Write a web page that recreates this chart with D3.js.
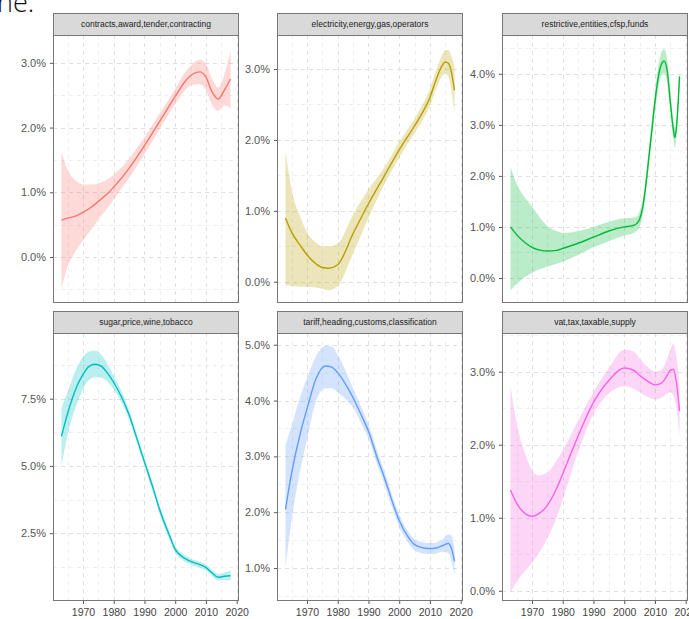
<!DOCTYPE html>
<html>
<head>
<meta charset="utf-8">
<script src="https://cdn.jsdelivr.net/npm/d3@7"></script>
<style>
  body { margin: 0; background: #fff; }
  svg { display: block; font-family: "Liberation Sans", Arial, sans-serif; }
</style>
</head>
<body>
<div id="chart"></div>
<script>
// shared x axis (years)
const xTicks = [1970, 1980, 1990, 2000, 2010, 2020];
const xMinor = [1965, 1975, 1985, 1995, 2005, 2015];

const titles = [
  "contracts,award,tender,contracting",
  "electricity,energy,gas,operators",
  "restrictive,entities,cfsp,funds",
  "sugar,price,wine,tobacco",
  "tariff,heading,customs,classification",
  "vat,tax,taxable,supply"
];
const colors = ["#F8766D", "#B79F00", "#00BA38", "#00BFC4", "#619CFF", "#F564E3"];

// y limits and ticks per facet (percent)
const yLimits = [[-0.71, 3.43], [-0.30, 3.48], [-0.49, 4.76], [-0.02, 9.94], [0.41, 5.21], [-0.14, 3.53]];
const yTicks = [[0, 1, 2, 3], [0, 1, 2, 3], [0, 1, 2, 3, 4], [2.5, 5, 7.5], [1, 2, 3, 4, 5], [0, 1, 2, 3]];

// smoothed share per year, with confidence band
const contractsYears = [1963,1965,1968,1970,1973,1975,1978,1980,1985,1990,1995,2000,2003,2005,2008,2010,2012,2014,2016,2018];
const contractsFit  = [0.57,0.60,0.64,0.69,0.78,0.86,0.98,1.08,1.37,1.72,2.10,2.48,2.70,2.80,2.86,2.78,2.55,2.44,2.58,2.75];
const contractsLow  = [-0.48,-0.15,0.12,0.26,0.44,0.58,0.76,0.89,1.22,1.59,1.98,2.36,2.56,2.65,2.67,2.58,2.35,2.26,2.34,2.30];
const contractsHigh = [1.62,1.35,1.17,1.12,1.12,1.14,1.20,1.27,1.52,1.85,2.22,2.60,2.84,2.95,3.05,2.98,2.75,2.62,2.82,3.20];

const electricityYears = [1963,1965,1968,1970,1973,1975,1977,1980,1985,1990,1995,2000,2005,2008,2010,2012,2014,2015,2016,2017,2018];
const electricityFit  = [0.90,0.70,0.50,0.38,0.25,0.20,0.19,0.24,0.68,1.10,1.48,1.86,2.20,2.42,2.60,2.85,3.05,3.10,3.08,2.95,2.70];
const electricityLow  = [-0.05,-0.06,-0.07,-0.07,-0.08,-0.10,-0.12,-0.06,0.40,0.90,1.36,1.75,2.10,2.31,2.48,2.72,2.90,2.93,2.89,2.70,2.38];
const electricityHigh = [1.85,1.30,0.90,0.70,0.55,0.50,0.50,0.54,0.95,1.30,1.60,1.97,2.30,2.53,2.72,2.98,3.20,3.27,3.27,3.18,3.02];

const restrictiveYears = [1963,1965,1968,1970,1973,1975,1978,1980,1985,1990,1995,2000,2003,2004,2005,2006,2007,2008,2009,2010,2011,2012,2013,2014,2015,2016,2016.5,2017,2018];
const restrictiveFit  = [1.00,0.85,0.68,0.60,0.54,0.53,0.54,0.58,0.68,0.80,0.92,1.00,1.03,1.06,1.15,1.38,1.80,2.35,2.90,3.45,3.90,4.17,4.25,4.05,3.45,2.90,2.75,2.95,3.95];
const restrictiveLow  = [-0.24,-0.12,0.03,0.10,0.18,0.22,0.28,0.32,0.45,0.60,0.72,0.83,0.88,0.92,1.00,1.22,1.64,2.18,2.72,3.25,3.68,3.95,4.02,3.82,3.24,2.72,2.55,2.78,3.82];
const restrictiveHigh = [2.18,1.85,1.55,1.40,1.15,1.02,0.92,0.88,0.92,1.00,1.10,1.17,1.18,1.20,1.30,1.52,1.96,2.52,3.08,3.65,4.12,4.40,4.48,4.28,3.66,3.08,2.95,3.12,4.08];

const sugarYears = [1963,1965,1968,1970,1972,1974,1976,1978,1980,1983,1985,1988,1990,1993,1995,1998,2000,2002,2005,2008,2010,2012,2014,2016,2018];
const sugarFit  = [6.10,6.95,7.95,8.40,8.70,8.78,8.70,8.45,8.10,7.45,6.90,5.85,5.15,4.10,3.35,2.45,1.90,1.65,1.45,1.33,1.22,1.02,0.86,0.90,0.92];
const sugarLow  = [5.00,6.15,7.30,7.85,8.20,8.30,8.28,8.12,7.85,7.25,6.72,5.70,5.00,3.95,3.20,2.30,1.77,1.53,1.34,1.22,1.11,0.91,0.74,0.76,0.74];
const sugarHigh = [7.15,7.75,8.65,9.05,9.25,9.28,9.12,8.78,8.35,7.65,7.08,6.00,5.30,4.25,3.50,2.60,2.03,1.77,1.56,1.44,1.33,1.13,0.98,1.04,1.10];

const tariffYears = [1963,1965,1968,1970,1973,1976,1978,1980,1983,1985,1988,1990,1993,1995,1998,2000,2003,2005,2008,2010,2012,2014,2016,2017,2018];
const tariffFit  = [2.05,2.70,3.45,3.85,4.40,4.62,4.60,4.50,4.25,4.05,3.70,3.45,2.95,2.65,2.15,1.85,1.55,1.42,1.36,1.35,1.36,1.40,1.44,1.35,1.12];
const tariffLow  = [1.00,1.85,2.80,3.30,4.00,4.22,4.22,4.15,4.00,3.87,3.55,3.32,2.83,2.53,2.04,1.74,1.45,1.32,1.26,1.25,1.26,1.29,1.27,1.12,0.88];
const tariffHigh = [3.20,3.55,4.10,4.40,4.80,4.98,4.97,4.82,4.48,4.22,3.84,3.58,3.07,2.77,2.26,1.96,1.65,1.52,1.46,1.45,1.46,1.51,1.60,1.58,1.35];

const vatYears = [1963,1965,1968,1970,1972,1975,1978,1980,1985,1990,1995,2000,2003,2005,2008,2010,2012,2014,2015,2016,2017,2018];
const vatFit  = [1.38,1.20,1.05,1.02,1.05,1.17,1.40,1.60,2.12,2.58,2.88,3.05,3.02,2.95,2.86,2.82,2.84,2.95,3.02,3.03,2.85,2.46];
const vatLow  = [-0.02,0.12,0.28,0.38,0.50,0.72,1.00,1.25,1.90,2.42,2.70,2.80,2.77,2.72,2.65,2.62,2.64,2.70,2.72,2.68,2.50,2.12];
const vatHigh = [2.80,2.30,1.85,1.65,1.58,1.62,1.78,1.92,2.33,2.72,3.05,3.30,3.28,3.18,3.05,3.00,3.02,3.18,3.30,3.38,3.20,2.80];

const series = [
  [contractsYears, contractsFit, contractsLow, contractsHigh],
  [electricityYears, electricityFit, electricityLow, electricityHigh],
  [restrictiveYears, restrictiveFit, restrictiveLow, restrictiveHigh],
  [sugarYears, sugarFit, sugarLow, sugarHigh],
  [tariffYears, tariffFit, tariffLow, tariffHigh],
  [vatYears, vatFit, vatLow, vatHigh]
];

// layout
const W = 689, H = 619;
const colLeft = [53, 277, 502];
const panelW = 186;
const rowStrip = [13, 311];   // strip top per row
const stripH = 22;
const panelH = 268;

const svg = d3.select("#chart").append("svg")
  .attr("width", W)
  .attr("height", H);

// fragment of caption text cut off at the top of the screenshot
svg.append("text")
  .attr("x", -3)
  .attr("y", 12)
  .attr("font-family", "'Open Sans', sans-serif")
  .attr("font-size", 27)
  .attr("font-weight", 300)
  .attr("fill", "#111")
  .text("he.");

const x = d3.scaleLinear().domain([1960.25, 2020.75]).range([0, panelW]);
const pct = d3.format(".1f");

series.forEach((s, i) => {
  const col = i % 3, row = Math.floor(i / 3);
  const left = colLeft[col];
  const stripTop = rowStrip[row];
  const top = stripTop + stripH;

  const y = d3.scaleLinear().domain(yLimits[i]).range([panelH, 0]);
  const g = svg.append("g").attr("transform", "translate(" + left + "," + top + ")");

  const data = s[0].map((yr, k) => ({ year: yr, fit: s[1][k], lo: s[2][k], hi: s[3][k] }));

  // minor grid
  const yMinor = [];
  const tk = yTicks[i];
  const step = tk[1] - tk[0];
  for (let v = tk[0] - step / 2; v <= yLimits[i][1]; v += step) {
    if (v >= yLimits[i][0]) yMinor.push(v);
  }
  g.selectAll(".ymin").data(yMinor).enter().append("line")
    .attr("x1", 0).attr("x2", panelW)
    .attr("y1", d => Math.round(y(d)) + 0.5).attr("y2", d => Math.round(y(d)) + 0.5)
    .attr("stroke", "#efefef").attr("stroke-dasharray", "4,4");
  g.selectAll(".xmin").data(xMinor).enter().append("line")
    .attr("y1", 0).attr("y2", panelH)
    .attr("x1", d => Math.round(x(d)) + 0.5).attr("x2", d => Math.round(x(d)) + 0.5)
    .attr("stroke", "#efefef").attr("stroke-dasharray", "4,4");

  // major grid
  g.selectAll(".ymaj").data(tk).enter().append("line")
    .attr("x1", 0).attr("x2", panelW)
    .attr("y1", d => Math.round(y(d)) + 0.5).attr("y2", d => Math.round(y(d)) + 0.5)
    .attr("stroke", "#e0e0e0").attr("stroke-dasharray", "4,4");
  g.selectAll(".xmaj").data(xTicks.filter(d => x(d) < panelW)).enter().append("line")
    .attr("y1", 0).attr("y2", panelH)
    .attr("x1", d => Math.round(x(d)) + 0.5).attr("x2", d => Math.round(x(d)) + 0.5)
    .attr("stroke", "#e0e0e0").attr("stroke-dasharray", "4,4");

  // confidence band
  const band = d3.area()
    .x(d => x(d.year))
    .y0(d => y(d.lo))
    .y1(d => y(d.hi))
    .curve(d3.curveMonotoneX);
  g.append("path")
    .datum(data)
    .attr("d", band)
    .attr("fill", colors[i])
    .attr("fill-opacity", 0.27);

  // smooth line
  const line = d3.line()
    .x(d => x(d.year))
    .y(d => y(d.fit))
    .curve(d3.curveMonotoneX);
  g.append("path")
    .datum(data)
    .attr("d", line)
    .attr("fill", "none")
    .attr("stroke", colors[i])
    .attr("stroke-width", 1.4);

  // y axis
  const yAxis = g.append("g")
    .call(d3.axisLeft(y).tickValues(tk).tickSize(3).tickPadding(4).tickFormat(d => pct(d) + "%"));
  yAxis.select(".domain").remove();
  yAxis.selectAll("line").attr("stroke", "#555");
  yAxis.selectAll("text")
    .attr("fill", "#555")
    .attr("font-size", 11)
    .attr("font-family", "'Liberation Sans', Arial, sans-serif");

  // x axis on bottom row only
  if (row === 1) {
    const xAxis = g.append("g")
      .attr("transform", "translate(0," + panelH + ")")
      .call(d3.axisBottom(x).tickValues(xTicks).tickSize(3).tickPadding(5).tickFormat(d3.format("d")));
    xAxis.select(".domain").remove();
    xAxis.selectAll("line").attr("stroke", "#555");
    xAxis.selectAll("text")
      .attr("fill", "#444")
      .attr("font-size", 10.5)
      .attr("font-family", "'Liberation Sans', Arial, sans-serif");
  }

  // panel border
  svg.append("rect")
    .attr("x", left + 0.5).attr("y", top + 0.5)
    .attr("width", panelW - 1).attr("height", panelH - 1)
    .attr("fill", "none").attr("stroke", "#777");

  // strip
  svg.append("rect")
    .attr("x", left + 0.5).attr("y", stripTop + 0.5)
    .attr("width", panelW - 1).attr("height", stripH)
    .attr("fill", "#d9d9d9").attr("stroke", "#777");
  svg.append("text")
    .attr("x", left + panelW / 2)
    .attr("y", stripTop + stripH / 2 + 3)
    .attr("text-anchor", "middle")
    .attr("font-size", 8.5)
    .attr("fill", "#222")
    .text(titles[i]);
});
</script>
</body>
</html>
